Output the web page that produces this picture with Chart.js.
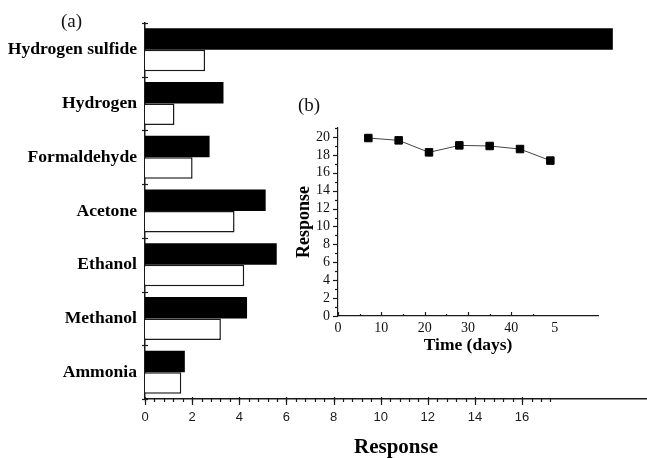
<!DOCTYPE html>
<html>
<head>
<meta charset="utf-8">
<script src="https://cdn.jsdelivr.net/npm/chart.js@4.4.0/dist/chart.umd.min.js"></script>
<style>
  body { margin: 0; background: #fff; }
  #wrap { position: relative; width: 647px; height: 458px; }
  #main { position: absolute; left: 0; top: 0; }
  #inset { position: absolute; left: 290px; top: 95px; }
  .tag { position: absolute; font-family: "Liberation Serif", "Times New Roman", serif; font-size: 19px; color: #111; }
</style>
</head>
<body>
<div id="wrap">
  <canvas id="main" width="647" height="458"></canvas>
  <canvas id="inset" width="320" height="265"></canvas>
  <div class="tag" style="left:61px; top:10px;">(a)</div>
  <div class="tag" style="left:298px; top:94px;">(b)</div>
</div>
<script>
// (a) gas responses
const gases = ["Hydrogen sulfide", "Hydrogen", "Formaldehyde", "Acetone", "Ethanol", "Methanol", "Ammonia"];
const responseBlack = [19.85, 3.33, 2.74, 5.12, 5.59, 4.33, 1.69];
const responseWhite = [2.55, 1.25, 2.02, 3.80, 4.21, 3.22, 1.54];
const mainXTicks = [0, 2, 4, 6, 8, 10, 12, 14, 16];

// (b) stability over time
const days = [7, 14, 21, 28, 35, 42, 49];
const stability = [19.88, 19.62, 18.28, 19.06, 18.99, 18.65, 17.36];
const insetXTicks = [0, 10, 20, 30, 40, 50];
const insetXTickLabels = ["0", "10", "20", "30", "40", "5"];
const insetYTicks = [0, 2, 4, 6, 8, 10, 12, 14, 16, 18, 20];

const serif = "'Liberation Serif', 'Times New Roman', serif";
const sans = "'Liberation Sans', Arial, sans-serif";
const ink = "#1a1a1a";

function range(from, to, step) {
  const out = [];
  for (let v = from; v <= to + 1e-9; v += step) out.push(Math.round(v * 100) / 100);
  return out;
}

// small tick marks drawn at scale positions (in/out lengths per set)
const axisTicks = {
  id: "axisTicks",
  afterDraw(chart, args, opts) {
    const ctx = chart.ctx;
    ctx.save();
    ctx.strokeStyle = ink;
    ctx.lineWidth = 1.2;
    (opts.marks || []).forEach(m => {
      const scale = chart.scales[m.scale];
      m.values.forEach(v => {
        const p = Math.round(scale.getPixelForValue(v)) + 0.5;
        ctx.beginPath();
        if (scale.isHorizontal()) {
          const y = scale.top;
          ctx.moveTo(p, y - m.inner);
          ctx.lineTo(p, y + m.outer);
        } else {
          const x = scale.right;
          ctx.moveTo(x - m.outer, p);
          ctx.lineTo(x + m.inner, p);
        }
        ctx.stroke();
      });
    });
    ctx.restore();
  }
};

new Chart(document.getElementById("main"), {
  type: "bar",
  data: {
    labels: gases,
    datasets: [
      { data: responseBlack, backgroundColor: "#000", borderWidth: 0 },
      { data: responseWhite, backgroundColor: "#fff", borderColor: ink, borderWidth: 1.5 }
    ]
  },
  options: {
    indexAxis: "y",
    responsive: false,
    animation: false,
    layout: { padding: { top: 23, right: 0, left: 0, bottom: 0 } },
    datasets: { bar: { categoryPercentage: 0.8, barPercentage: 1.0 } },
    plugins: {
      legend: { display: false },
      tooltip: { enabled: false },
      axisTicks: {
        marks: [
          { scale: "x", values: mainXTicks, inner: 2, outer: 6 },
          { scale: "x", values: range(0, 17.2, 0.4), inner: 0, outer: 3 },
          { scale: "y", values: range(-0.5, gases.length - 0.5, 1), inner: 3, outer: 3 }
        ]
      }
    },
    scales: {
      x: {
        min: 0,
        max: 21.3,
        afterBuildTicks: s => { s.ticks = mainXTicks.map(v => ({ value: v })); },
        afterFit: s => { s.height = 59; },
        grid: { display: false, drawTicks: false },
        border: { display: true, color: ink, width: 1.5 },
        ticks: { color: ink, padding: 11, maxRotation: 0, autoSkip: false, font: { family: sans, size: 13 } },
        title: { display: true, text: "Response", color: "#000", padding: { top: 0, bottom: -2 }, font: { family: serif, size: 21, weight: "bold" } }
      },
      y: {
        afterFit: s => { s.width = 145; },
        grid: { display: false, drawTicks: false },
        border: { display: true, color: ink, width: 1.5 },
        ticks: { color: "#000", padding: 8, autoSkip: false, font: { family: serif, size: 17.6, weight: "bold" } }
      }
    }
  },
  plugins: [axisTicks]
});

new Chart(document.getElementById("inset"), {
  type: "line",
  data: {
    datasets: [{
      data: days.map((d, i) => ({ x: d, y: stability[i] })),
      borderColor: "#444",
      borderWidth: 1,
      pointStyle: "rect",
      pointRadius: 5.3,
      pointBackgroundColor: "#000",
      pointBorderColor: "#000",
      pointBorderWidth: 1
    }]
  },
  options: {
    responsive: false,
    animation: false,
    layout: { padding: { top: 33, right: 12, left: 0, bottom: 0 } },
    plugins: {
      legend: { display: false },
      tooltip: { enabled: false },
      axisTicks: {
        marks: [
          { scale: "x", values: insetXTicks.slice(0, 5), inner: 4, outer: 0 },
          { scale: "x", values: [5, 15, 25, 35, 45], inner: 2, outer: 0 },
          { scale: "y", values: insetYTicks, inner: 0, outer: 5 },
          { scale: "y", values: range(1, 21, 2), inner: 0, outer: 3 }
        ]
      }
    },
    scales: {
      x: {
        type: "linear",
        min: 0,
        max: 60,
        afterBuildTicks: s => { s.ticks = insetXTicks.map(v => ({ value: v })); },
        afterFit: s => { s.height = 44; },
        grid: { display: false, drawTicks: false },
        border: { display: true, color: ink, width: 1.2 },
        ticks: {
          color: "#111", padding: 4, maxRotation: 0, autoSkip: false,
          font: { family: serif, size: 14 },
          callback: (v, i) => insetXTickLabels[i]
        },
        title: { display: true, text: "Time (days)", color: "#000", padding: { top: 0, bottom: 4 }, font: { family: serif, size: 17.5, weight: "bold" } }
      },
      y: {
        min: 0,
        max: 21,
        afterBuildTicks: s => { s.ticks = insetYTicks.map(v => ({ value: v })); },
        afterFit: s => { s.width = 48; },
        grid: { display: false, drawTicks: false },
        border: { display: true, color: ink, width: 1.2 },
        ticks: { color: "#111", padding: 8, autoSkip: false, font: { family: serif, size: 14 } },
        title: { display: true, text: "Response", color: "#000", padding: { top: 4, bottom: 0 }, font: { family: serif, size: 18, weight: "bold" } }
      }
    }
  },
  plugins: [axisTicks]
});
</script>
</body>
</html>
